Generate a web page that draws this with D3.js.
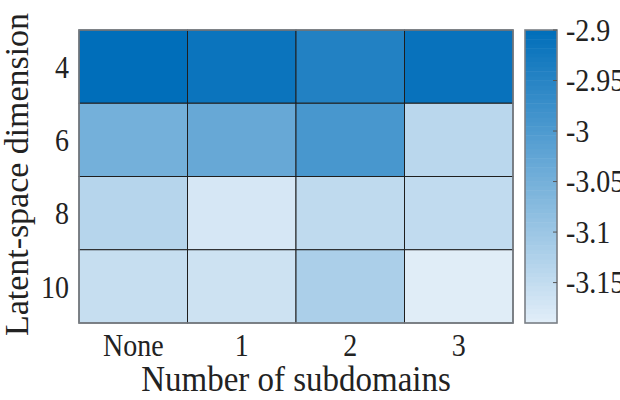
<!DOCTYPE html>
<html><head><meta charset="utf-8">
<script src="https://cdn.jsdelivr.net/npm/d3@7"></script>
<style>body{margin:0;background:#fff}svg{display:block}text{font-family:"Liberation Serif","Times New Roman",serif;fill:#222}</style>
</head><body><svg id="c" width="620" height="400"></svg>
<script>
const xCategories = ["None", "1", "2", "3"];
const yCategories = ["4", "6", "8", "10"];
const row4  = [-2.900, -2.914, -2.944, -2.910];
const row6  = [-3.049, -3.032, -2.992, -3.139];
const row8  = [-3.133, -3.175, -3.145, -3.148];
const row10 = [-3.154, -3.163, -3.119, -3.187];
const colorDomain = [-3.19, -2.9];
const colorTicks = [-2.9, -2.95, -3, -3.05, -3.1, -3.15];
const xTitle = "Number of subdomains";
const yTitle = "Latent-space dimension";

const rows = [row4, row6, row8, row10];
const cells = [];
rows.forEach((r, i) => r.forEach((v, j) => cells.push({x: xCategories[j], y: yCategories[i], v})));

const svg = d3.select("#c");
const L = 79, R = 513, T = 30, B = 323;
const K = 1.15; // vertical glyph stretch seen in the reference
const x = d3.scaleBand().domain(xCategories).range([L, R]);
const y = d3.scaleBand().domain(yCategories).range([T, B]);
const color = d3.scaleLinear().domain(colorDomain).range(["#e2eef8", "#006eba"]).interpolate(d3.interpolateRgb).clamp(true);

svg.append("g").selectAll("rect").data(cells).join("rect")
  .attr("x", d => x(d.x)).attr("y", d => y(d.y))
  .attr("width", x.bandwidth()).attr("height", y.bandwidth())
  .attr("fill", d => color(d.v)).attr("stroke", "#1e1e1e").attr("stroke-width", 1);
svg.append("rect").attr("x", L).attr("y", T).attr("width", R - L).attr("height", B - T)
  .attr("fill", "none").attr("stroke", "#7a7f85").attr("stroke-width", 1.6);

// x tick labels
svg.append("g").selectAll("text").data(xCategories).join("text")
  .attr("transform", d => `translate(${x(d) + x.bandwidth() / 2},356) scale(1,${K})`)
  .attr("text-anchor", "middle").attr("font-size", 28).text(d => d);
// y tick labels
svg.append("g").selectAll("text").data(yCategories).join("text")
  .attr("transform", d => `translate(69,${y(d) + y.bandwidth() / 2}) scale(1,${K})`)
  .attr("dy", "0.35em").attr("text-anchor", "end").attr("font-size", 28).text(d => d);

svg.append("text").attr("transform", `translate(${(L + R) / 2},391) scale(1,1.1)`).attr("text-anchor", "middle")
  .attr("font-size", 33).text(xTitle);
svg.append("text").attr("transform", `translate(28,${(T + B) / 2 - 2}) rotate(-90) scale(1.06,1.05)`)
  .attr("text-anchor", "middle").attr("font-size", 32).text(yTitle);

// colorbar
const cbL = 525, cbR = 557;
const cy = d3.scaleLinear().domain(colorDomain).range([B, T]);
const nSteps = 64;
const steps = d3.range(nSteps).map(i => colorDomain[0] + (colorDomain[1] - colorDomain[0]) * i / nSteps);
const stepH = (colorDomain[1] - colorDomain[0]) / nSteps;
svg.append("g").selectAll("rect").data(steps).join("rect")
  .attr("x", cbL).attr("width", cbR - cbL)
  .attr("y", d => cy(d + stepH)).attr("height", d => cy(d) - cy(d + stepH) + 0.5)
  .attr("fill", d => color(d + stepH / 2));
svg.append("rect").attr("x", cbL).attr("y", T).attr("width", cbR - cbL).attr("height", B - T)
  .attr("fill", "none").attr("stroke", "#7a7f85").attr("stroke-width", 1.6);
const cbAxis = d3.axisRight(cy).tickValues(colorTicks).tickSize(0).tickFormat(d => String(d));
const ga = svg.append("g").attr("transform", `translate(${cbR},0)`).call(cbAxis);
ga.select(".domain").remove();
ga.selectAll(".tick text").attr("x", null).attr("dy", null)
  .attr("transform", `translate(9,0) scale(1,${K})`).attr("dy", "0.32em")
  .attr("font-size", 28).attr("fill", "#222").attr("font-family", "Liberation Serif, serif");
svg.append("g").selectAll("line").data(colorTicks).join("line")
  .attr("x1", cbR - 4).attr("x2", cbR).attr("y1", d => cy(d)).attr("y2", d => cy(d))
  .attr("stroke", "#555").attr("stroke-width", 1);
</script></body></html>
